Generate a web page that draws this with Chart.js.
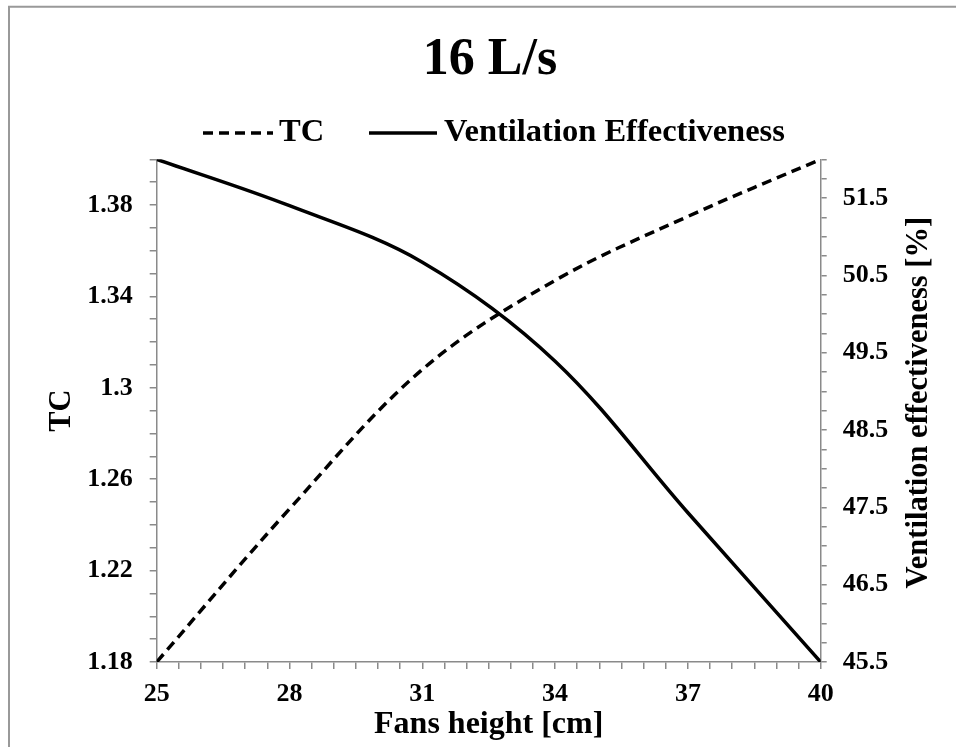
<!DOCTYPE html>
<html>
<head>
<meta charset="utf-8">
<script src="https://cdn.jsdelivr.net/npm/chart.js@4.4.1/dist/chart.umd.min.js"></script>
<style>
  html, body { margin: 0; padding: 0; background: #ffffff; }
  #wrap { width: 956px; height: 747px; position: relative; }
</style>
</head>
<body>
<div id="wrap"><canvas id="chart" width="956" height="747"></canvas></div>
<script>
// Fan heights [cm]
const heights = [25, 28, 31, 34, 37, 40];
// Thermal comfort index (left axis)
const tcValues = [1.18, 1.247, 1.308, 1.347, 1.375, 1.40];
// Ventilation effectiveness [%] (right axis)
const veValues = [52.0, 51.40, 50.67, 49.39, 47.43, 45.5];

// Labelled tick values
const xTickLabels = [25, 28, 31, 34, 37, 40];
const tcTickLabels = [1.18, 1.22, 1.26, 1.3, 1.34, 1.38];
const veTickLabels = [45.5, 46.5, 47.5, 48.5, 49.5, 50.5, 51.5];

const FONT = "'Liberation Serif', 'Times New Roman', serif";
const AXIS_GREY = '#8a8a8a';

// Evenly spaced tick positions (major + minor marks)
function tickRange(min, max, step) {
  const out = [];
  const n = Math.round((max - min) / step);
  for (let i = 0; i <= n; i++) out.push({ value: +(min + i * step).toFixed(4) });
  return out;
}
function labelFrom(list) {
  return (value) => {
    const hit = list.find(v => Math.abs(v - value) < 1e-6);
    return hit === undefined ? '' : String(hit);
  };
}

const framePlugin = {
  id: 'frame',
  beforeDraw(chart) {
    const ctx = chart.ctx;
    ctx.save();
    ctx.fillStyle = '#ffffff';
    ctx.fillRect(0, 0, chart.width, chart.height);
    ctx.strokeStyle = '#999999';
    ctx.lineWidth = 2;
    ctx.beginPath();
    ctx.moveTo(9, chart.height);
    ctx.lineTo(9, 6.75);
    ctx.lineTo(chart.width, 6.75);
    ctx.stroke();
    ctx.restore();
  }
};

// Legend row: line sample followed by the series name
const legendPlugin = {
  id: 'seriesLegend',
  afterDraw(chart) {
    const ctx = chart.ctx;
    const y = 133;
    const entries = [
      { ds: chart.data.datasets[0], x0: 203, x1: 273, tx: 279 },
      { ds: chart.data.datasets[1], x0: 369, x1: 437, tx: 444 }
    ];
    ctx.save();
    ctx.font = `bold 32.5px ${FONT}`;
    ctx.textBaseline = 'middle';
    ctx.textAlign = 'left';
    entries.forEach(e => {
      ctx.strokeStyle = e.ds.borderColor;
      ctx.lineWidth = e.ds.borderWidth;
      ctx.setLineDash(e.ds.borderDash || []);
      ctx.beginPath();
      ctx.moveTo(e.x0, y);
      ctx.lineTo(e.x1, y);
      ctx.stroke();
      ctx.setLineDash([]);
      ctx.fillStyle = '#000000';
      ctx.fillText(e.ds.label, e.tx, y);
    });
    ctx.restore();
  }
};

// Right-hand axis title, reading bottom-to-top
const rightTitlePlugin = {
  id: 'rightTitle',
  afterDraw(chart) {
    const s = chart.scales.yVE;
    const ctx = chart.ctx;
    ctx.save();
    ctx.translate(s.right - 37, (s.top + s.bottom) / 2 - 8);
    ctx.rotate(-Math.PI / 2);
    ctx.font = `bold 30.5px ${FONT}`;
    ctx.fillStyle = '#000000';
    ctx.textAlign = 'center';
    ctx.textBaseline = 'middle';
    ctx.fillText('Ventilation effectiveness [%]', 0, 0);
    ctx.restore();
  }
};

const tickFont = { family: FONT, size: 26, weight: 'bold' };

new Chart(document.getElementById('chart'), {
  type: 'line',
  data: {
    datasets: [
      {
        label: 'TC',
        data: heights.map((h, i) => ({ x: h, y: tcValues[i] })),
        yAxisID: 'yTC',
        borderColor: '#000000',
        backgroundColor: '#000000',
        borderWidth: 3.5,
        borderDash: [10, 6],
        pointRadius: 0,
        tension: 0.35,
        fill: false
      },
      {
        label: 'Ventilation Effectiveness',
        data: heights.map((h, i) => ({ x: h, y: veValues[i] })),
        yAxisID: 'yVE',
        borderColor: '#000000',
        backgroundColor: '#000000',
        borderWidth: 3.5,
        pointRadius: 0,
        tension: 0.35,
        fill: false
      }
    ]
  },
  options: {
    responsive: false,
    animation: false,
    devicePixelRatio: 1,
    layout: { padding: { left: 24, right: 0, top: 0, bottom: 0 } },
    plugins: {
      title: {
        display: true,
        text: '16 L/s',
        color: '#000000',
        font: { family: FONT, size: 52, weight: 'bold', lineHeight: 1 },
        padding: { top: 34.5, bottom: 72.8 }
      },
      legend: { display: false },
      tooltip: { enabled: false }
    },
    scales: {
      x: {
        type: 'linear',
        min: 25,
        max: 40,
        afterBuildTicks: (s) => { s.ticks = tickRange(25, 40, 0.5); },
        afterFit: (s) => { s.height = 85; },
        ticks: {
          callback: labelFrom(xTickLabels),
          autoSkip: false,
          maxRotation: 0,
          padding: 10,
          color: '#000000',
          font: tickFont
        },
        grid: { drawOnChartArea: false, drawTicks: true, tickLength: 7, color: AXIS_GREY, lineWidth: 1.5 },
        border: { display: true, color: AXIS_GREY, width: 1.5 },
        title: {
          display: true,
          text: 'Fans height [cm]',
          color: '#000000',
          font: { family: FONT, size: 32, weight: 'bold' },
          padding: { top: 0, bottom: 3 }
        }
      },
      yTC: {
        type: 'linear',
        position: 'left',
        min: 1.18,
        max: 1.40,
        afterBuildTicks: (s) => { s.ticks = tickRange(1.18, 1.40, 0.01); },
        afterFit: (s) => { s.width = 132.7; },
        ticks: {
          callback: labelFrom(tcTickLabels),
          autoSkip: false,
          padding: 17,
          color: '#000000',
          font: tickFont
        },
        grid: { drawOnChartArea: false, drawTicks: true, tickLength: 7, color: AXIS_GREY, lineWidth: 1.5 },
        border: { display: true, color: AXIS_GREY, width: 1.5 },
        title: {
          display: true,
          text: 'TC',
          color: '#000000',
          font: { family: FONT, size: 30.5, weight: 'bold' },
          padding: { top: 20, bottom: 0 }
        }
      },
      yVE: {
        type: 'linear',
        position: 'right',
        min: 45.5,
        max: 52,
        afterBuildTicks: (s) => { s.ticks = tickRange(45.5, 52, 0.25); },
        afterFit: (s) => { s.width = 135.3; },
        ticks: {
          callback: labelFrom(veTickLabels),
          autoSkip: false,
          padding: 16,
          color: '#000000',
          font: tickFont
        },
        grid: { drawOnChartArea: false, drawTicks: true, tickLength: 6, color: AXIS_GREY, lineWidth: 1.5 },
        border: { display: true, color: AXIS_GREY, width: 1.5 }
      }
    }
  },
  plugins: [framePlugin, legendPlugin, rightTitlePlugin]
});
</script>
</body>
</html>
